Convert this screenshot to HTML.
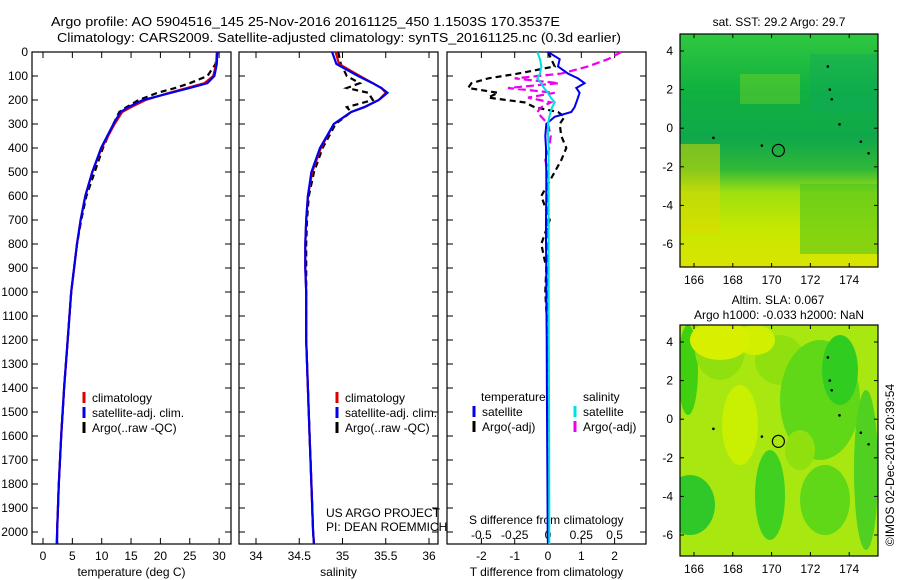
<!DOCTYPE html>
<html><head><meta charset="utf-8"><style>
html,body{margin:0;padding:0;background:#fff;}
svg{display:block;font-family:"Liberation Sans",sans-serif;}
</style></head><body>
<svg id="fig" width="900" height="580" viewBox="0 0 900 580" xmlns="http://www.w3.org/2000/svg">
<text x="51" y="26" font-size="13" textLength="509" lengthAdjust="spacingAndGlyphs">Argo profile: AO 5904516_145 25-Nov-2016 20161125_450 1.1503S 170.3537E</text>
<text x="57" y="42" font-size="13" textLength="564" lengthAdjust="spacingAndGlyphs">Climatology: CARS2009. Satellite-adjusted climatology: synTS_20161125.nc (0.3d earlier)</text>
<g id="maps"></g>
<g id="panels"></g>
<text transform="translate(894,465) rotate(-90)" font-size="12" text-anchor="middle">©IMOS 02-Dec-2016 20:39:54</text>
</svg>
<script>
// ---- data ----
const pres = [0,50,100,130,150,170,200,230,250,300,400,500,600,700,800,900,1000,1200,1400,1600,1800,2000,2050];
const tempClim = [29.6,29.5,29.0,27.5,24.5,21.5,17.5,15.0,13.5,12.2,10.0,8.4,7.2,6.4,5.8,5.3,4.8,4.2,3.6,3.1,2.7,2.4,2.3];
const tempSat  = [29.7,29.6,29.2,28.0,25.0,21.8,17.0,14.5,13.2,12.0,9.9,8.4,7.2,6.4,5.8,5.3,4.8,4.2,3.6,3.1,2.7,2.4,2.4];
const tempArgo = [29.7,29.4,28.0,25.0,22.5,19.5,16.3,14.2,13.0,12.0,10.2,8.8,7.4,6.5,5.8,5.3,4.8,4.2,3.6,3.1,2.7,2.4,2.4];
const salClim = [34.92,34.96,35.2,35.35,35.45,35.5,35.42,35.25,35.1,34.9,34.75,34.65,34.6,34.58,34.57,34.57,34.58,34.58,34.6,34.62,34.64,34.66,34.67];
const salSat  = [34.88,34.93,35.18,35.35,35.45,35.52,35.42,35.25,35.1,34.9,34.74,34.64,34.6,34.58,34.57,34.57,34.58,34.58,34.6,34.62,34.64,34.66,34.67];
const salArgo = [34.95,34.98,35.05,35.2,35.05,35.3,35.35,35.05,35.1,34.92,34.77,34.67,34.61,34.59,34.58,34.58,34.58,34.58,34.6,34.62,34.64,34.66,34.67];
const dPres = [0,30,60,90,110,130,150,170,190,210,230,250,270,300,350,400,450,500,600,700,800,900,1000,1200,1500,2000,2050];
const dTSat  = [0,0.35,0.3,0.6,0.9,1.1,0.85,0.95,0.9,0.85,0.8,0.7,0.2,-0.05,-0.08,-0.06,-0.06,-0.05,-0.05,-0.06,-0.06,-0.05,-0.05,-0.04,-0.03,-0.01,0];
const dTArgo = [0,0.1,0.2,-0.9,-1.8,-2.3,-2.4,-1.5,-1.8,-0.7,-0.4,0.3,0.5,0.35,0.4,0.55,0.4,0.2,-0.2,0.05,-0.2,-0.05,-0.08,0,0,0,0];
const dSSat  = [-0.08,-0.06,-0.05,-0.06,-0.08,-0.05,-0.03,0.0,0.02,0.05,0.03,0.02,0.01,0.0,0.0,0.005,0.005,0.005,0.005,0.005,0.005,0.005,0.005,0.006,0.008,0.01,0.01];
const dSArgo = [0.55,0.45,0.3,0.1,-0.25,0.08,-0.3,0.05,-0.15,0.02,-0.05,-0.08,-0.05,0.0,0.02,0.01,-0.02,0.0,-0.01,0.0,0.0,0.0,0.0,0.0,0.0,0.0,0.0];
const depthTicks = [0,100,200,300,400,500,600,700,800,900,1000,1100,1200,1300,1400,1500,1600,1700,1800,1900,2000];
const tTicks = [0,5,10,15,20,25,30];
const sTicks = [34,34.5,35,35.5,36];
const dTTicks = [-2,-1,0,1,2];
const dSTicks = [-0.5,-0.25,0,0.25,0.5];
const latTicks = [4,2,0,-2,-4,-6];
const lonTicks = [166,168,170,172,174];

const NS='http://www.w3.org/2000/svg';
const G=document.getElementById('panels');
function el(tag,attrs,parent){const e=document.createElementNS(NS,tag);for(const k in attrs)e.setAttribute(k,attrs[k]);(parent||G).appendChild(e);return e;}
function txt(x,y,s,anchor,size,parent){const t=el('text',{x:x,y:y,'font-size':size||12,'text-anchor':anchor||'start'},parent);t.textContent=s;return t;}
const yP=p=>52+p*0.24;
const TOP=52, BOT=544;
const x1=t=>43+t*5.87;
const x2=s=>256+(s-34)*86.5;
const x3T=d=>548+d*33.3;
const x3S=d=>548+d*133.2;

function frame(L,R,name,xt,xf,xlbl,showY){
  const r=el('rect',{x:L,y:TOP,width:R-L,height:BOT-TOP,fill:'none',stroke:'#000','stroke-width':1.2});
  
  
  depthTicks.forEach(p=>{
    el('line',{x1:L,x2:L+6,y1:yP(p),y2:yP(p),stroke:'#000'});
    el('line',{x1:R-6,x2:R,y1:yP(p),y2:yP(p),stroke:'#000'});
    if(showY){const t=txt(L-4,yP(p)+4,String(p),'end',12);
      
      }
  });
  xt.forEach(v=>{
    const x=xf(v);
    el('line',{x1:x,x2:x,y1:TOP,y2:TOP+6,stroke:'#000'});
    el('line',{x1:x,x2:x,y1:BOT-6,y2:BOT,stroke:'#000'});
    const t=txt(x,560,String(v),'middle',12);
    
    
  });
  const t=txt((L+R)/2,576,xlbl,'middle',12);
  
  
}
function line(xs,ps,xf,color,dash,w,name){
  const d=xs.map((v,i)=>(i?'L':'M')+xf(v).toFixed(1)+','+yP(ps[i]).toFixed(1)).join(' ');
  const p=el('path',{d:d,fill:'none',stroke:color,'stroke-width':w||2,'stroke-dasharray':dash||'none'});
  
  
}
function legend(x,y,items){
  items.forEach((it,i)=>{
    el('line',{x1:x,x2:x,y1:y+i*15-10,y2:y+i*15+1,stroke:it[0],'stroke-width':3});
    const t=txt(x+8,y+i*15,it[1],'start',12);
    
    
  });
}
// panel 1
frame(32,231,'temperature-panel',tTicks,x1,'temperature (deg C)',true);
line(tempArgo,pres,x1,'#000','6,4',2.2,'argo-temperature-line');
line(tempClim,pres,x1,'#e00000',null,2.2,'climatology-temperature-line');
line(tempSat,pres,x1,'#0000ee',null,2.2,'satellite-temperature-line');
legend(84,402,[['#e00000','climatology'],['#0000ee','satellite-adj. clim.'],['#000','Argo(..raw -QC)']]);
// panel 2
frame(239,438,'salinity-panel',sTicks,x2,'salinity',false);
line(salArgo,pres,x2,'#000','6,4',2.2,'argo-salinity-line');
line(salClim,pres,x2,'#e00000',null,2.2,'climatology-salinity-line');
line(salSat,pres,x2,'#0000ee',null,2.2,'satellite-salinity-line');
legend(337,402,[['#e00000','climatology'],['#0000ee','satellite-adj. clim.'],['#000','Argo(..raw -QC)']]);
txt(326,517,'US ARGO PROJECT','start',12);
txt(326,531,'PI: DEAN ROEMMICH','start',12);
// panel 3
frame(447,646,'difference-panel',dTTicks,x3T,'T difference from climatology',false);
dSTicks.forEach(v=>{const t=txt(x3S(v),539,String(v),'middle',12);
  
  });
txt(469,524,'S difference from climatology','start',12);
line(dTArgo,dPres,x3T,'#000','6,4',2.2,'argo-t-diff-line');
line(dSArgo,dPres,x3S,'#ee00ee','8,4',2.2,'argo-s-diff-line');
line(dTSat,dPres,x3T,'#0000ee',null,2,'satellite-t-diff-line');
line(dSSat,dPres,x3S,'#00e0e0',null,2,'satellite-s-diff-line');
txt(481,401,'temperature','start',12);
txt(583,401,'salinity','start',12);
legend(474,416,[['#0000ee','satellite'],['#000','Argo(-adj)']]);
legend(575,416,[['#00e0e0','satellite'],['#ee00ee','Argo(-adj)']]);

// ---- maps ----
const M=document.getElementById('maps');
function map(top,bot,name,regions){
  const L=680,R=878;
  const lonX=l=>694+(l-166)*19.4;
  const latY=a=>top+17+(4-a)*19.3;
  const g=el('g',{},M);
  
  
  const cp=el('clipPath',{id:name+'-clip'},g);
  el('rect',{x:L,y:top,width:R-L,height:bot-top},cp);
  const inner=el('g',{'clip-path':'url(#'+name+'-clip)'},g);
  regions(inner,L,R,top,bot,lonX,latY);
  [[172.9,3.2],[173,2],[173.1,1.5],[173.5,0.2],[174.6,-0.7],[175,-1.3],[169.5,-0.9],[167,-0.5]].forEach(c=>{
    el('circle',{cx:lonX(c[0]),cy:latY(c[1]),r:1.3,fill:'#000'},inner);});
  el('circle',{cx:lonX(170.35),cy:latY(-1.15),r:6,fill:'none',stroke:'#000','stroke-width':1.2},g);
  el('rect',{x:L,y:top,width:R-L,height:bot-top,fill:'none',stroke:'#000','stroke-width':1.2},g);
  latTicks.forEach(a=>{const y=latY(a);
    el('line',{x1:L,x2:L+4,y1:y,y2:y,stroke:'#000'},g);el('line',{x1:R-4,x2:R,y1:y,y2:y,stroke:'#000'},g);
    txt(673,y+4,String(a),'end',12,g);});
  lonTicks.forEach(l=>{const x=lonX(l);
    el('line',{x1:x,x2:x,y1:top,y2:top+4,stroke:'#000'},g);el('line',{x1:x,x2:x,y1:bot-4,y2:bot,stroke:'#000'},g);
    txt(x,bot+17,String(l),'middle',12,g);});
  return g;
}
map(34,267,'sst-map',(g,L,R,T,B)=>{
  const grd=el('linearGradient',{id:'sstg',x1:0,y1:0,x2:0,y2:1},g);
  [[0,'#30c840'],[0.25,'#10b040'],[0.45,'#10a84a'],[0.58,'#30b838'],[0.68,'#a0e010'],[0.85,'#c8e800'],[1,'#d8e400']].forEach(s=>el('stop',{offset:s[0],'stop-color':s[1]},grd));
  el('rect',{x:L,y:T,width:R-L,height:B-T,fill:'url(#sstg)'},g);
  el('rect',{x:L,y:T+110,width:40,height:90,fill:'#e0d800',opacity:0.5},g);
  el('rect',{x:L+120,y:T+150,width:78,height:70,fill:'#40c020',opacity:0.5},g);
  el('rect',{x:L+60,y:T+40,width:60,height:30,fill:'#80d820',opacity:0.4},g);
  el('rect',{x:L+130,y:T+20,width:68,height:60,fill:'#10a860',opacity:0.4},g);
});
map(325,556,'sla-map',(g,L,R,T,B)=>{
  el('rect',{x:L,y:T,width:R-L,height:B-T,fill:'#a8e810'},g);
  [[688,370,10,45,'#40d010'],[690,505,25,30,'#30c828'],[720,350,25,30,'#90e010'],[780,360,25,25,'#90e010'],[820,400,40,60,'#60d818'],[840,370,18,35,'#30cc20'],[770,495,15,45,'#40d020'],[825,500,25,35,'#60d818'],[755,340,20,15,'#d0f000'],[740,425,18,40,'#c8f000'],[720,340,30,20,'#d8f000'],[866,470,12,80,'#50d020'],[800,450,15,20,'#90e010']].forEach(e=>{
    el('ellipse',{cx:e[0],cy:e[1],rx:e[2],ry:e[3],fill:e[4]},g);});
});
txt(779,26,'sat. SST: 29.2 Argo: 29.7','middle',12,M);
txt(778,304,'Altim. SLA: 0.067','middle',12,M);
txt(779,319,'Argo h1000: -0.033 h2000: NaN','middle',12,M);
</script>
</body></html>
